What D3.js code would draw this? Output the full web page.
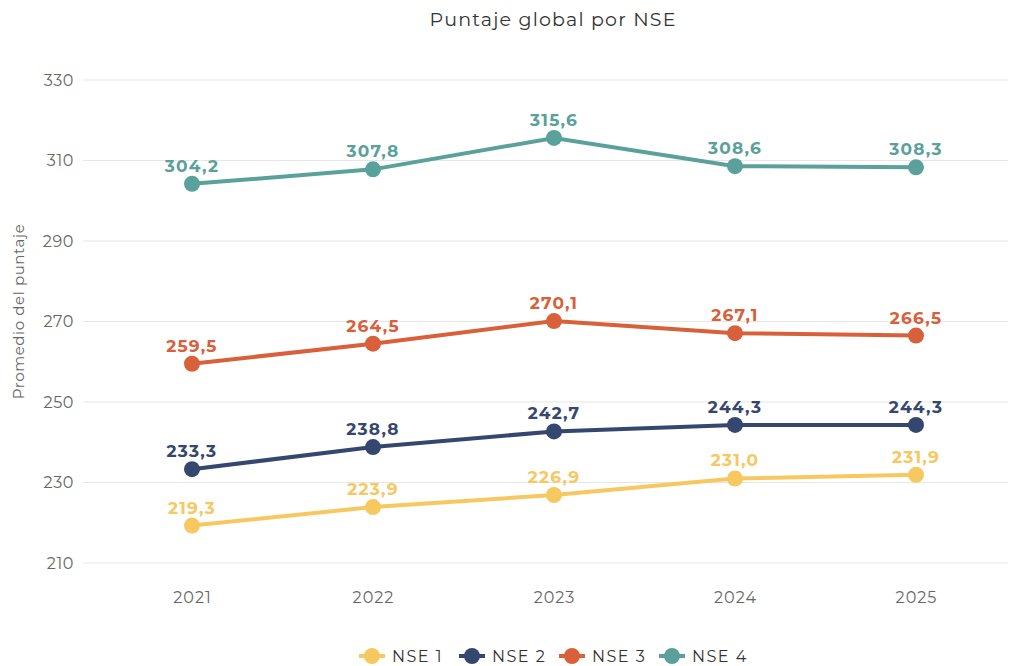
<!DOCTYPE html>
<html>
<head>
<meta charset="utf-8">
<script src="https://cdn.jsdelivr.net/npm/d3@7"></script>
<style>
  body { margin: 0; background: #fff; }
  svg { font-family: Montserrat, "Noto Sans", sans-serif; }
</style>
</head>
<body>
<svg id="chart"></svg>
<script>
const years = ["2021", "2022", "2023", "2024", "2025"];
const seriesNames = ["NSE 1", "NSE 2", "NSE 3", "NSE 4"];
const nse1 = [219.3, 223.9, 226.9, 231.0, 231.9];
const nse2 = [233.3, 238.8, 242.7, 244.3, 244.3];
const nse3 = [259.5, 264.5, 270.1, 267.1, 266.5];
const nse4 = [304.2, 307.8, 315.6, 308.6, 308.3];
const colors = ["#f6c85f", "#34476f", "#d8603a", "#5aa19b"];
const yTicks = [210, 230, 250, 270, 290, 310, 330];

const width = 1014, height = 666;
const margin = { top: 80, right: 6, bottom: 103, left: 83 };

const series = [nse1, nse2, nse3, nse4].map((values, i) => ({
  name: seriesNames[i],
  color: colors[i],
  values: values.map((v, j) => ({ year: years[j], value: v }))
}));

const svg = d3.select("#chart").attr("width", width).attr("height", height);

const x = d3.scalePoint()
  .domain(years)
  .range([192, 916]);

const y = d3.scaleLinear()
  .domain([210, 330])
  .range([height - margin.bottom, margin.top]);

// grid
svg.append("g")
  .selectAll("line")
  .data(yTicks)
  .join("line")
  .attr("x1", margin.left)
  .attr("x2", width - margin.right)
  .attr("y1", d => y(d))
  .attr("y2", d => y(d))
  .attr("stroke", "#e6e6e6")
  .attr("stroke-width", 1.2);

// y axis labels
const yAxis = d3.axisLeft(y).tickValues(yTicks).tickSize(0).tickPadding(9)
  .tickFormat(d3.format("d"));
svg.append("g")
  .attr("transform", `translate(${margin.left},0)`)
  .call(yAxis)
  .call(g => g.select(".domain").remove())
  .call(g => g.selectAll("text")
    .attr("font-size", 16)
    .attr("letter-spacing", 0.6)
    .attr("font-family", "Montserrat, 'Noto Sans', sans-serif")
    .attr("fill", "#666"));

// x axis labels
const xAxis = d3.axisBottom(x).tickSize(0).tickPadding(0);
svg.append("g")
  .attr("transform", `translate(0,${y(210) + 29})`)
  .call(xAxis)
  .call(g => g.select(".domain").remove())
  .call(g => g.selectAll("text")
    .attr("font-size", 16)
    .attr("letter-spacing", 1)
    .attr("font-family", "Montserrat, 'Noto Sans', sans-serif")
    .attr("fill", "#666"));

// title
svg.append("text")
  .attr("x", 553)
  .attr("y", 26)
  .attr("text-anchor", "middle")
  .attr("font-size", 19)
  .attr("letter-spacing", 1.2)
  .attr("fill", "#333")
  .text("Puntaje global por NSE");

// y axis title
svg.append("text")
  .attr("transform", `translate(24,${(y(330) + y(210)) / 2 - 10}) rotate(-90)`)
  .attr("text-anchor", "middle")
  .attr("font-size", 15)
  .attr("letter-spacing", 0.6)
  .attr("fill", "#666")
  .text("Promedio del puntaje");

const line = d3.line()
  .x(d => x(d.year))
  .y(d => y(d.value));

const fmt = v => d3.format(".1f")(v).replace(".", ",");

const groups = svg.append("g")
  .selectAll("g")
  .data(series)
  .join("g");

groups.append("path")
  .attr("d", d => line(d.values))
  .attr("fill", "none")
  .attr("stroke", d => d.color)
  .attr("stroke-width", 4);

groups.selectAll("circle")
  .data(d => d.values.map(v => ({ ...v, color: d.color })))
  .join("circle")
  .attr("cx", d => x(d.year))
  .attr("cy", d => y(d.value))
  .attr("r", 8)
  .attr("fill", d => d.color);

groups.selectAll("text.lbl")
  .data(d => d.values.map(v => ({ ...v, color: d.color })))
  .join("text")
  .attr("class", "lbl")
  .attr("x", d => x(d.year))
  .attr("y", d => y(d.value) - 12)
  .attr("text-anchor", "middle")
  .attr("font-size", 17)
  .attr("letter-spacing", 1.2)
  .attr("font-weight", "bold")
  .attr("fill", d => d.color)
  .text(d => fmt(d.value));

// legend
const legend = svg.append("g")
  .attr("transform", `translate(0,656)`);

const items = legend.selectAll("g")
  .data(series)
  .join("g")
  .attr("transform", (d, i) => `translate(${372 + i * 100},0)`);

items.append("line")
  .attr("x1", -13).attr("x2", 13)
  .attr("stroke", d => d.color)
  .attr("stroke-width", 4);

items.append("circle")
  .attr("r", 8)
  .attr("fill", d => d.color);

items.append("text")
  .attr("x", 20)
  .attr("dy", "0.35em")
  .attr("font-size", 16)
  .attr("letter-spacing", 1.5)
  .attr("fill", "#333")
  .text(d => d.name);
</script>
</body>
</html>
